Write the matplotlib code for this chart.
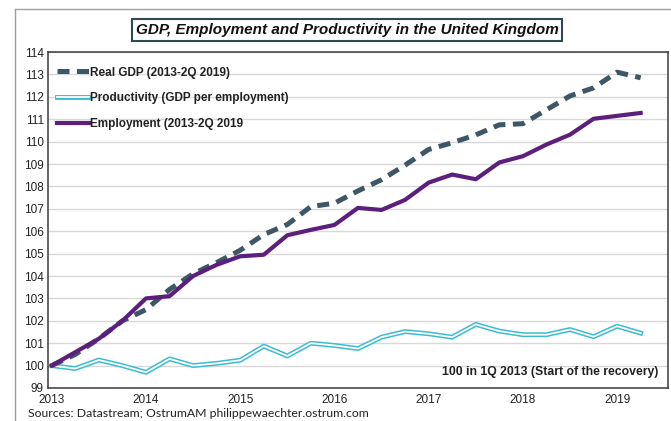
import matplotlib
matplotlib.use('Agg')
import matplotlib.pyplot as plt
from matplotlib.lines import Line2D
from matplotlib.legend_handler import HandlerTuple

plt.rcParams['font.family'] = ['Liberation Sans Narrow', 'Liberation Sans', 'DejaVu Sans']

# quarterly data, 1Q 2013 = 100
quarters = [2013 + i / 4 for i in range(26)]
gdp = [100.0, 100.5, 101.2, 102.0, 102.5, 103.4, 104.1, 104.6, 105.15, 105.85,
       106.3, 107.1, 107.25, 107.8, 108.3, 108.95, 109.65, 109.95, 110.3, 110.75,
       110.8, 111.42, 112.04, 112.4, 113.1, 112.85]
productivity = [100.0, 99.87, 100.25, 100.0, 99.7, 100.3, 100.0, 100.1, 100.24, 100.87,
                100.43, 101.0, 100.9, 100.76, 101.27, 101.52, 101.42, 101.27, 101.84, 101.54,
                101.38, 101.38, 101.61, 101.29, 101.76, 101.45]
employment = [100.0, 100.6, 101.2, 102.0, 103.0, 103.1, 104.0, 104.5, 104.88, 104.95,
              105.82, 106.06, 106.28, 107.04, 106.95, 107.4, 108.17, 108.53, 108.32, 109.07,
              109.35, 109.87, 110.31, 111.02, 111.15, 111.28]

years = [2013, 2014, 2015, 2016, 2017, 2018, 2019]
yticks = list(range(99, 115))

c_gdp = '#3e5766'
c_prod = '#3cbcd2'
c_emp = '#5c1f7e'

fig = plt.figure(figsize=(6.71, 4.21), dpi=100)
ax = fig.add_axes([0.0715, 0.0784, 0.924, 0.798])

ax.plot(quarters, gdp, color=c_gdp, lw=3.6, dashes=(2.4, 1.5), zorder=4)
# double line: cyan outline with white core
ax.plot(quarters, productivity, color=c_prod, lw=3.5, zorder=3)
ax.plot(quarters, productivity, color='white', lw=1.3, zorder=3)
ax.plot(quarters, employment, color=c_emp, lw=3.0, zorder=5)

ax.set_xlim(2012.96, 2019.54)
ax.set_ylim(99, 114)
ax.set_xticks(years)
ax.set_xticklabels([str(y) for y in years])
ax.set_yticks(yticks)
ax.tick_params(length=0, labelsize=8.5, colors='#222222', pad=3)
ax.tick_params(axis='x', pad=4)
ax.grid(axis='y', color='#d9d9d9', lw=1)
ax.set_axisbelow(True)
for s in ax.spines.values():
    s.set_color('#3a3a3a')
    s.set_linewidth(1.1)

h_gdp = Line2D([], [], color=c_gdp, lw=3.6, dashes=(2.4, 1.5))
h_emp = Line2D([], [], color=c_emp, lw=3.0)
h_p1 = Line2D([], [], color=c_prod, lw=3.5)
h_p2 = Line2D([], [], color='white', lw=1.3)
leg = ax.legend([h_gdp, (h_p1, h_p2), h_emp],
                ['Real GDP (2013-2Q 2019)', 'Productivity (GDP per employment)',
                 'Employment (2013-2Q 2019'],
                handler_map={tuple: HandlerTuple(ndivide=1)},
                loc='upper left', bbox_to_anchor=(0.0, 0.985), frameon=False,
                fontsize=8.5, handlelength=2.7, handletextpad=0.1, labelspacing=1.15,
                borderaxespad=0.4)
for t in leg.get_texts():
    t.set_fontweight('bold')
    t.set_color('#222222')

ax.text(0.985, 0.03, '100 in 1Q 2013 (Start of the recovery)', transform=ax.transAxes,
        ha='right', va='bottom', fontsize=8.8, fontweight='bold', color='#222222')

fig.text(0.517, 0.928, 'GDP, Employment and Productivity in the United Kingdom',
         ha='center', va='center', fontsize=11, fontweight='bold', style='italic',
         color='#111111',
         bbox=dict(boxstyle='square,pad=0.25', facecolor='white', edgecolor='#2e4a57', lw=1.5))

fig.text(0.042, 0.004, 'Sources: Datastream; OstrumAM philippewaechter.ostrum.com',
         ha='left', va='bottom', fontsize=8.8, color='#222222', family=['Lato', 'DejaVu Sans'])

# outer frame of the original picture
fig.add_artist(Line2D([0.022, 1.0], [0.978, 0.978], transform=fig.transFigure, color='#a0a0a0', lw=1))
fig.add_artist(Line2D([0.022, 0.022], [0.0, 0.978], transform=fig.transFigure, color='#a0a0a0', lw=1))

fig.savefig('out.png', dpi=100)
